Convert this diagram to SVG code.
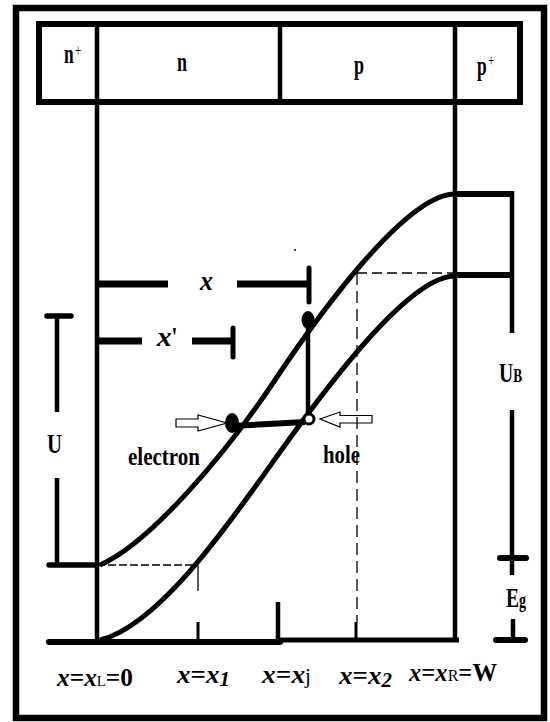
<svg xmlns="http://www.w3.org/2000/svg" width="550" height="722" viewBox="0 0 550 722">
<style>
.k{stroke:#000;fill:none}
.curve{fill:none;stroke:#000;stroke-width:5}
.dash{stroke:#000;stroke-width:1.3;fill:none}
.arrow{fill:#fff;stroke:#000;stroke-width:1.2}
text{font-family:"Liberation Serif","Times New Roman",serif;font-weight:bold;fill:#000}
.it{font-style:italic}
.nw{font-weight:normal}
</style>
<rect width="550" height="722" fill="#fff"/>
<g id="frame"><rect x="16" y="8" width="528" height="710" class="k" stroke-width="6.5"/></g>
<g id="header">
<rect x="39" y="24" width="481" height="78" class="k" stroke-width="6"/>
<line x1="280" y1="24" x2="280" y2="102" class="k" stroke-width="4.5"/>
</g>
<g id="region-nplus"><text transform="translate(64,63) scale(0.62,1)" font-size="28">n<tspan x="18" y="-7.5" font-size="17" class="nw">+</tspan></text></g>
<g id="region-n"><text x="177" y="71" font-size="28" textLength="10" lengthAdjust="spacingAndGlyphs">n</text></g>
<g id="region-p"><text x="354" y="74" font-size="28" textLength="10" lengthAdjust="spacingAndGlyphs">p</text></g>
<g id="region-pplus"><text transform="translate(477,75) scale(0.62,1)" font-size="28">p<tspan x="18" y="-9" font-size="17" class="nw">+</tspan></text></g>
<g id="bands">
<path class="curve" d="M100,565 C150,543 225,455 275,380 C315,320 405,194 455,194"/>
<path class="curve" d="M100,640 C160,625 230,522 280,452 C330,382 410,276 455,276"/>
</g>
<g id="connectors">
<line x1="97" y1="24" x2="97" y2="643" class="k" stroke-width="4.5"/>
<line x1="455" y1="24" x2="455" y2="640" class="k" stroke-width="4.5"/>
<line x1="49" y1="642" x2="280" y2="642" class="k" stroke-width="6" stroke-linecap="round"/>
<line x1="278" y1="640" x2="459" y2="640" class="k" stroke-width="5"/>
<line x1="278" y1="602" x2="278" y2="642" class="k" stroke-width="4.5"/>
<line x1="198" y1="622" x2="198" y2="642" class="k" stroke-width="3"/>
<line x1="356" y1="622" x2="356" y2="640" class="k" stroke-width="3"/>
<line x1="97" y1="565" x2="198" y2="565" class="dash" stroke-dasharray="8 3"/>
<line x1="198" y1="565" x2="198" y2="622" class="dash" stroke-dasharray="26 40"/>
<line x1="357" y1="273" x2="455" y2="273" class="dash" stroke-dasharray="10 5"/>
<line x1="49" y1="565" x2="97" y2="565" class="k" stroke-width="5.5" stroke-linecap="round"/>
<line x1="57" y1="316" x2="57" y2="412" class="k" stroke-width="4.5"/>
<line x1="57" y1="478" x2="57" y2="565" class="k" stroke-width="4.5"/>
<line x1="47" y1="316" x2="71" y2="316" class="k" stroke-width="5.5" stroke-linecap="round"/>
<line x1="455" y1="194" x2="513" y2="194" class="k" stroke-width="6"/>
<line x1="455" y1="275" x2="513" y2="275" class="k" stroke-width="6"/>
<line x1="512" y1="191" x2="512" y2="333" class="k" stroke-width="4.5"/>
<line x1="512" y1="410" x2="512" y2="575" class="k" stroke-width="4.5"/>
<line x1="500" y1="558" x2="526" y2="558" class="k" stroke-width="6" stroke-linecap="round"/>
<line x1="513" y1="619" x2="513" y2="640" class="k" stroke-width="4.5"/>
<line x1="496" y1="640" x2="525" y2="640" class="k" stroke-width="6" stroke-linecap="round"/>
<line x1="97" y1="284" x2="168" y2="284" class="k" stroke-width="7"/>
<line x1="237" y1="284" x2="309" y2="284" class="k" stroke-width="7"/>
<line x1="309" y1="268" x2="309" y2="302" class="k" stroke-width="5" stroke-linecap="round"/>
<line x1="97" y1="341" x2="142" y2="341" class="k" stroke-width="7"/>
<line x1="192" y1="341" x2="233" y2="341" class="k" stroke-width="7"/>
<line x1="233" y1="328" x2="233" y2="357" class="k" stroke-width="5" stroke-linecap="round"/>
<line x1="308" y1="320" x2="308" y2="419" class="k" stroke-width="4.5"/>
<line x1="232" y1="426" x2="305" y2="422" class="k" stroke-width="6"/>
</g>
<g id="electron-arrow"><polygon class="arrow" points="176,419 198,419 198,415 227,423 198,431 198,427 176,427"/></g>
<g id="hole-arrow"><polygon class="arrow" points="320,419 340,412 340,415.5 372,415.5 372,423 340,423 340,427"/></g>
<line x1="357" y1="273" x2="357" y2="622" class="dash" stroke-dasharray="12 6"/>
<g id="upper-dot"><ellipse cx="308" cy="320" rx="6.5" ry="9" fill="#000"/></g>
<g id="electron"><ellipse cx="232" cy="423" rx="7" ry="10" fill="#000"/><text x="128" y="465" font-size="25" textLength="72" lengthAdjust="spacingAndGlyphs">electron</text></g>
<g id="hole"><circle cx="309" cy="419" r="5" fill="#fff" stroke="#000" stroke-width="3"/><text x="323" y="463" font-size="25" textLength="37" lengthAdjust="spacingAndGlyphs">hole</text></g>
<circle cx="295" cy="250" r="1" fill="#000"/>
<g id="labels">
<text x="47" y="453" font-size="28" textLength="15" lengthAdjust="spacingAndGlyphs">U</text>
<text transform="translate(499,382) scale(0.7,1)" font-size="28">U<tspan font-size="19">B</tspan></text>
<text transform="translate(506,607) scale(0.7,1)" font-size="28">E<tspan font-size="20">g</tspan></text>
<text x="200" y="290" font-size="27" class="it" textLength="13" lengthAdjust="spacingAndGlyphs">x</text>
<text x="157" y="346" font-size="27" textLength="20" lengthAdjust="spacingAndGlyphs"><tspan class="it">x</tspan><tspan class="nw">'</tspan></text>
<text x="57" y="686" font-size="26" textLength="76" lengthAdjust="spacingAndGlyphs"><tspan class="it">x</tspan>=<tspan class="it">x</tspan><tspan font-size="15" class="nw">L</tspan>=0</text>
<text x="177" y="683" font-size="26" textLength="53" lengthAdjust="spacingAndGlyphs"><tspan class="it">x</tspan>=<tspan class="it">x</tspan><tspan class="it" font-size="20" dy="3">1</tspan></text>
<text x="262" y="683" font-size="26" textLength="49" lengthAdjust="spacingAndGlyphs"><tspan class="it">x</tspan>=<tspan class="it">x</tspan><tspan class="nw" font-size="20">j</tspan></text>
<text x="339" y="684" font-size="26" textLength="53" lengthAdjust="spacingAndGlyphs"><tspan class="it">x</tspan>=<tspan class="it">x</tspan><tspan class="it" font-size="20" dy="3">2</tspan></text>
<text x="409" y="681" font-size="26" textLength="88" lengthAdjust="spacingAndGlyphs"><tspan class="it">x</tspan>=<tspan class="it">x</tspan><tspan font-size="17" class="nw">R</tspan>=W</text>
</g>
</svg>
